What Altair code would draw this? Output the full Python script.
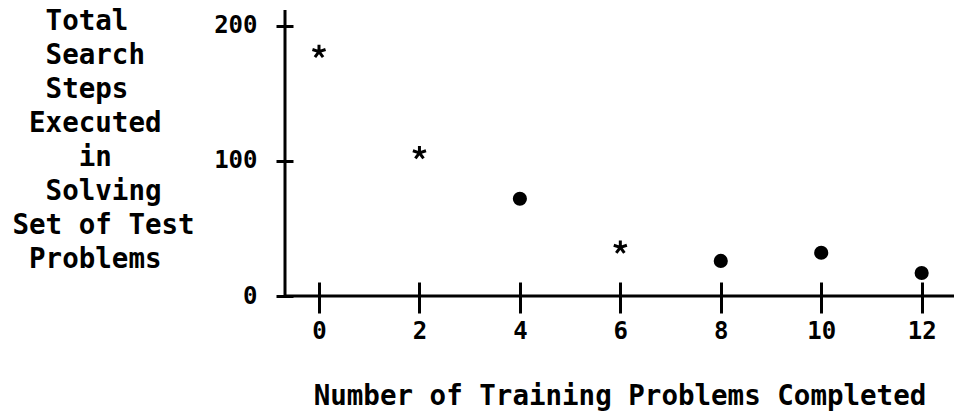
import altair as alt
import pandas as pd

# ---- data ----
x_vals = [0, 2, 4, 6, 8, 10, 12]
y_vals = [181, 106, 72, 36, 26, 32, 17]
kinds = ["star", "star", "dot", "star", "dot", "dot", "dot"]

x_ticks = [0, 2, 4, 6, 8, 10, 12]
y_ticks = [0, 100, 200]
x_title = "Number of Training Problems Completed"
y_title_lines = ["  Total", "  Search", "  Steps", " Executed", "    in",
                 "  Solving", "Set of Test", " Problems"]

X_DOMAIN = [-0.677, 12.644]
Y_DOMAIN = [0, 211.85]

FONT = "DejaVu Sans Mono"
WEIGHT = "bold"
NBSP = "\u00a0"
ZWSP = "\u200b"
# keep the typewriter indentation: a zero-width char stops trimming
y_title = [ZWSP + ln.replace(" ", NBSP) for ln in y_title_lines]

df = pd.DataFrame({"x": x_vals, "y": y_vals, "kind": kinds})
xline_df = pd.DataFrame({"y": [Y_DOMAIN[0]]})
yline_df = pd.DataFrame({"x": [X_DOMAIN[0]]})

STAR = ("M0,0L0,-1M0,0L0.951,-0.309M0,0L-0.951,-0.309"
        "M0,0L0.588,0.809M0,0L-0.588,0.809")

x_axis = alt.Axis(
    values=x_ticks, title=x_title, domain=False, grid=False,
    ticks=True, tickSize=31, tickWidth=3, tickColor="black", offset=-14,
    labelFont=FONT, labelFontSize=24, labelFontWeight=WEIGHT,
    labelColor="black", labelPadding=6,
    labelFlush=False, labelOverlap=False,
    titleFont=FONT, titleFontSize=27.5, titleFontWeight=WEIGHT,
    titleColor="black", titleBaseline="alphabetic", titleY=122,
)
y_axis = alt.Axis(
    values=y_ticks, title=y_title, domain=False, grid=False,
    ticks=True, tickSize=17, tickWidth=3, tickColor="black", offset=-8,
    labelFont=FONT, labelFontSize=24, labelFontWeight=WEIGHT,
    labelColor="black", labelPadding=19,
    labelOverlap=False,
    titleFont=FONT, titleFontSize=27.5, titleFontWeight=WEIGHT,
    titleColor="black", titleAngle=0, titleAlign="left",
    titleBaseline="alphabetic", titleX=-281, titleY=19, titleLineHeight=34,
)

xs = alt.X("x:Q", scale=alt.Scale(domain=X_DOMAIN, nice=False, zero=False), axis=x_axis)
ys = alt.Y("y:Q", scale=alt.Scale(domain=Y_DOMAIN, nice=False, zero=False), axis=y_axis)

x_line = alt.Chart(xline_df).mark_rule(color="black", strokeWidth=3).encode(y=ys)
y_line = alt.Chart(yline_df).mark_rule(color="black", strokeWidth=3).encode(x=xs)

stars = (
    alt.Chart(df)
    .transform_filter(alt.datum.kind == "star")
    .mark_point(shape=STAR, size=190, filled=False, stroke="black",
                strokeWidth=3, opacity=1)
    .encode(x=xs, y=ys)
)
dots = (
    alt.Chart(df)
    .transform_filter(alt.datum.kind == "dot")
    .mark_circle(size=200, color="black", opacity=1)
    .encode(x=xs, y=ys)
)

chart = (
    alt.layer(y_line, x_line, stars, dots)
    .properties(
        width=669, height=286,
        autosize=alt.AutoSizeParams(type="none"),
        padding={"left": 285, "top": 10, "right": 0, "bottom": 117},
        background="white",
    )
    .configure_view(stroke=None)
)

chart.save("out.html", embed_options={"renderer": "svg", "actions": False})
